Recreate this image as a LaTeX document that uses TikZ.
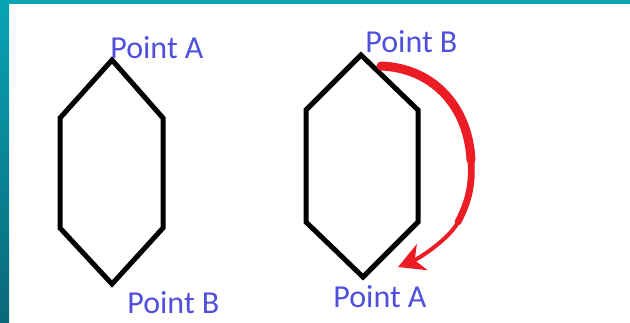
\documentclass[tikz,border=0pt]{standalone}
\usepackage{fontspec}
\setmainfont{Carlito}
\usepackage{xcolor}
\usetikzlibrary{arrows.meta}
\definecolor{labelblue}{RGB}{80,80,220}
\definecolor{frametop}{RGB}{8,164,180}
\definecolor{framebot}{RGB}{10,104,120}
\definecolor{swapred}{RGB}{236,28,36}

\begin{document}
\begin{tikzpicture}[x=0.5pt,y=-0.5pt,font=\fontsize{16}{19}\selectfont,
  lbl/.style={text=labelblue,inner sep=0pt,anchor=base west},
  hex/.style={draw=black,line width=2.5pt},
  swap/.style={draw=swapred,line cap=round},>=Stealth]
% frame
\fill[white] (0,0) rectangle (630,322);
\shade[top color=frametop,bottom color=framebot] (0,0) rectangle (9,322);
\fill[frametop] (0,0) rectangle (630,4);
\useasboundingbox (0,0) rectangle (630,322);

% left hexagon
\coordinate (lt) at (112,60);
\coordinate (lur) at (163,118);
\coordinate (llr) at (163,228);
\coordinate (lb) at (112,284);
\coordinate (lll) at (60,228);
\coordinate (lul) at (60,118);
\draw[hex] (lt)--(lur)--(llr)--(lb)--(lll)--(lul)--cycle;
\node[lbl] (la) at (110,58) {Point A};
\node[lbl] (lbb) at (127,313) {Point B};

% right hexagon
\coordinate (rt) at (361,55);
\coordinate (rur) at (418,110);
\coordinate (rlr) at (418,222);
\coordinate (rb) at (363,277);
\coordinate (rll) at (306,222);
\coordinate (rul) at (306,110);
\draw[hex] (rt)--(rur)--(rlr)--(rb)--(rll)--(rul)--cycle;
\node[lbl] (rbb) at (365,52) {Point B};
\node[lbl] (ra) at (333,307) {Point A};

% red arrow, thick at the start
\coordinate (s0) at (381,66);
\coordinate (s1) at (471,160);
\coordinate (s2) at (458,222);
\coordinate (s3) at (398,267);
\draw[swap,line width=4.5pt] (s0) .. controls (432,68) and (468,105) .. (s1);
\draw[swap,line width=3.4pt] (s1) .. controls (473,190) and (466,206) .. (s2);
\draw[swap,line width=2pt,-{Stealth[length=13pt,width=14pt,inset=4pt]}] (s2) .. controls (450,238) and (420,258) .. (s3);
\end{tikzpicture}
\end{document}
